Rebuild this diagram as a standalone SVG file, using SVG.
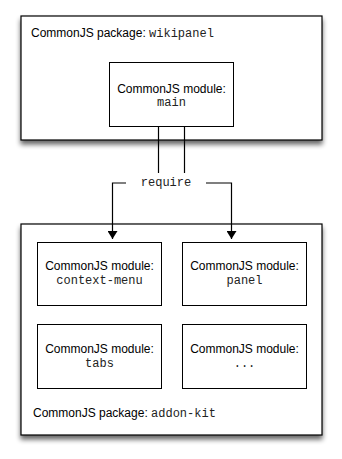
<svg xmlns="http://www.w3.org/2000/svg" width="342" height="459" viewBox="0 0 342 459">
<style>
.pkg{fill:#fff;stroke:#000;stroke-width:1.2}
.mod{fill:#fff;stroke:#000;stroke-width:1}
.t{font-family:"Liberation Sans",Arial,sans-serif;font-size:12px;fill:#000}
.m{font-family:"Liberation Mono","Courier New",monospace;font-size:12px;fill:#222}
.c{text-anchor:middle}
.ln{fill:none;stroke:#000;stroke-width:1.2}
</style>
<defs>
<filter id="sh" x="-10%" y="-10%" width="130%" height="130%">
<feGaussianBlur in="SourceAlpha" stdDeviation="2.5"/>
<feOffset dx="0" dy="4" result="b"/>
<feComponentTransfer><feFuncA type="linear" slope="0.6"/></feComponentTransfer>
<feMerge><feMergeNode/><feMergeNode in="SourceGraphic"/></feMerge>
</filter>
<marker id="ah" viewBox="0 0 8 10" refX="8" refY="5" markerWidth="8" markerHeight="10" markerUnits="userSpaceOnUse" orient="auto">
<path d="M0,0 L8,5 L0,10 Z" fill="#000"/>
</marker>
</defs>
<rect width="342" height="459" fill="#fff"/>
<g id="pkg-wikipanel">
<rect class="pkg" x="21" y="16" width="301" height="124" filter="url(#sh)"/>
<text class="t" x="31" y="37">CommonJS package: <tspan class="m">wikipanel</tspan></text>
</g>
<g id="mod-main">
<rect class="mod" x="109.5" y="62.5" width="124" height="64"/>
<text class="t c" x="171.5" y="93">CommonJS module:</text>
<text class="m c" x="171.5" y="106">main</text>
</g>
<g id="pkg-addon-kit">
<rect class="pkg" x="21" y="224" width="301" height="211" filter="url(#sh)"/>
<text class="t" x="33" y="417">CommonJS package: <tspan class="m">addon-kit</tspan></text>
</g>
<g id="mod-context-menu">
<rect class="mod" x="37.5" y="242.5" width="124" height="63"/>
<text class="t c" x="99.5" y="270">CommonJS module:</text>
<text class="m c" x="99.5" y="284">context-menu</text>
</g>
<g id="mod-panel">
<rect class="mod" x="182.5" y="242.5" width="124" height="63"/>
<text class="t c" x="244.5" y="270">CommonJS module:</text>
<text class="m c" x="244.5" y="284">panel</text>
</g>
<g id="mod-tabs">
<rect class="mod" x="37.5" y="324.5" width="124" height="64"/>
<text class="t c" x="99.5" y="353">CommonJS module:</text>
<text class="m c" x="99.5" y="367">tabs</text>
</g>
<g id="mod-more">
<rect class="mod" x="182.5" y="324.5" width="124" height="64"/>
<text class="t c" x="244.5" y="353">CommonJS module:</text>
<text class="m c" x="244.5" y="367">...</text>
</g>
<g id="connectors">
<path class="ln" d="M158.5,126.5 V173"/>
<path class="ln" d="M184.5,126.5 V173"/>
<path class="ln" d="M126,183 H112.5 V239" marker-end="url(#ah)"/>
<path class="ln" d="M206,183 H231.5 V239" marker-end="url(#ah)"/>
<text class="m c" x="166" y="186">require</text>
</g>
</svg>
